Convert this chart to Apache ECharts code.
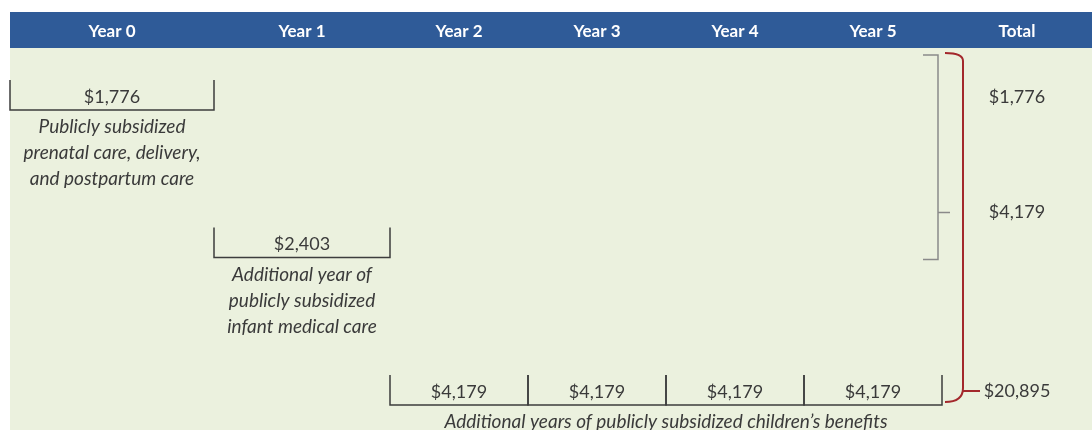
<!DOCTYPE html>
<html>
<head>
<meta charset="utf-8">
<script src="https://cdn.jsdelivr.net/npm/echarts@6/dist/echarts.min.js"></script>
<style>
  html, body { margin: 0; padding: 0; background: #fff; }
  #chart { width: 1092px; height: 430px; }
</style>
</head>
<body>
<div id="chart"></div>
<script>
// columns
var categories = ['Year 0', 'Year 1', 'Year 2', 'Year 3', 'Year 4', 'Year 5', 'Total'];
// cost of each year and the row it is drawn on
var yearCost = [1776, 2403, 4179, 4179, 4179, 4179];
var yearRow = [0, 1, 2, 2, 2, 2];
// bracket groups (first col, last col) and their captions
var groupCols = [[0, 0], [1, 1], [2, 5]];
var groupCaptions = [
  'Publicly subsidized\nprenatal care, delivery,\nand postpartum care',
  'Additional year of\npublicly subsidized\ninfant medical care',
  'Additional years of publicly subsidized children\u2019s benefits'
];
// running totals shown in the Total column
var totals = [1776, 4179, 20895];
var totalRow = [0, 1, 2];

// layout only
var colWidths = [204, 176, 138, 138, 138, 138, 150];
var edges = [0];
colWidths.forEach(function (w, i) { edges.push(edges[i] + w); });
var centers = colWidths.map(function (w, i) { return edges[i] + w / 2; });
var tickH = 30;
var totalOffset = [-13, -45, -14];
var FONT = 'Lato, "Open Sans", sans-serif';

function money(v) {
  return '$' + v.toLocaleString('en-US');
}

var chart = echarts.init(document.getElementById('chart'));

function renderYear(params, api) {
  var c = api.value(0), row = api.value(1);
  var p0 = api.coord([edges[c], row]);
  var p1 = api.coord([edges[c + 1], row]);
  return {
    type: 'group',
    children: [
      {
        type: 'polyline',
        shape: { points: [[p0[0], p0[1] - tickH], [p0[0], p0[1]], [p1[0], p1[1]], [p1[0], p1[1] - tickH]] },
        style: { stroke: '#3d3d3d', lineWidth: 1.5, fill: null }
      },
      {
        type: 'text',
        style: {
          text: money(api.value(2)), x: (p0[0] + p1[0]) / 2, y: p0[1] - 13,
          align: 'center', verticalAlign: 'middle',
          font: '18px ' + FONT, fill: '#3a3a3a'
        }
      }
    ]
  };
}

function renderCaption(params, api) {
  var c0 = api.value(0), c1 = api.value(1), row = api.value(2);
  var p0 = api.coord([edges[c0], row]);
  var p1 = api.coord([edges[c1 + 1], row]);
  return {
    type: 'text',
    style: {
      text: groupCaptions[params.dataIndex], x: (p0[0] + p1[0]) / 2, y: p0[1] + 4,
      align: 'center', verticalAlign: 'top', lineHeight: 26,
      font: 'italic 19px ' + FONT, fill: '#3a3a3a'
    }
  };
}

function renderTotal(params, api) {
  var i = params.dataIndex;
  var row = api.value(1);
  var p = api.coord([centers[6], row]);
  var top = api.coord([edges[6], 0]);
  var y = p[1] + totalOffset[i];
  var kids = [{
    type: 'text',
    style: {
      text: money(api.value(2)), x: p[0], y: y,
      align: 'center', verticalAlign: 'middle',
      font: '18px ' + FONT, fill: '#3a3a3a'
    }
  }];
  if (i === 1) {
    // grey brace over the first two years
    var gx0 = api.coord([edges[6] - 4, 0])[0];
    var yTop = top[1] - 55, yBot = p[1] + 2;
    kids.push({
      type: 'path',
      shape: { pathData: 'M' + (gx0 - 15) + ' ' + yTop + ' L' + gx0 + ' ' + yTop + ' L' + gx0 + ' ' + yBot + ' L' + (gx0 - 15) + ' ' + yBot +
        ' M' + gx0 + ' ' + y + ' L' + (gx0 + 12) + ' ' + y },
      style: { stroke: '#8a8a8a', lineWidth: 1.5, fill: null }
    });
  }
  if (i === 2) {
    // red brace over all years
    var rx = api.coord([edges[6] + 21, 0])[0];
    var lx = api.coord([edges[6] + 3, 0])[0];
    var rTop = top[1] - 57, rBot = p[1] - 3;
    kids.push({
      type: 'path',
      shape: { pathData: 'M' + lx + ' ' + rTop + ' Q' + rx + ' ' + rTop + ' ' + rx + ' ' + (rTop + 8) +
        ' L' + rx + ' ' + (rBot - 14) + ' Q' + rx + ' ' + rBot + ' ' + lx + ' ' + rBot +
        ' M' + rx + ' ' + y + ' L' + (rx + 17) + ' ' + y },
      style: { stroke: '#a3282c', lineWidth: 2, fill: null }
    });
  }
  return { type: 'group', children: kids };
}

var option = {
  animation: false,
  graphic: [
    { type: 'rect', left: 10, top: 48, shape: { width: 1082, height: 382 }, style: { fill: '#ebf1de' }, z: -10 },
    { type: 'rect', left: 10, top: 12, shape: { width: 1082, height: 36 }, style: { fill: '#2f5b98' }, z: -10 }
  ],
  grid: { left: 10, right: 0, top: 110, bottom: 25 },
  xAxis: {
    type: 'value', position: 'top', min: 0, max: edges[edges.length - 1],
    axisLine: { show: false }, axisTick: { show: false }, splitLine: { show: false },
    axisLabel: {
      customValues: centers,
      formatter: function (v) {
        var k = centers.indexOf(v);
        return k >= 0 ? categories[k] : '';
      },
      color: '#fff', fontWeight: 'bold', fontSize: 17, fontFamily: FONT, margin: 70
    }
  },
  yAxis: { type: 'value', min: 0, max: 2, inverse: true, show: false },
  series: [
    {
      type: 'custom', name: 'years', renderItem: renderYear,
      data: yearCost.map(function (v, i) { return [i, yearRow[i], v]; })
    },
    {
      type: 'custom', name: 'captions', renderItem: renderCaption,
      data: groupCols.map(function (g) { return [g[0], g[1], yearRow[g[0]]]; })
    },
    {
      type: 'custom', name: 'totals', renderItem: renderTotal,
      data: totals.map(function (v, i) { return [6, totalRow[i], v]; })
    }
  ]
};

chart.setOption(option);
window.addEventListener('resize', function () { chart.resize(); });
</script>
</body>
</html>
